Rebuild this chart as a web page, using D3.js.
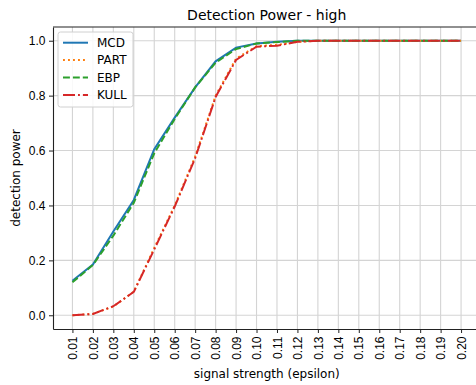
<!DOCTYPE html>
<html>
<head>
<meta charset="utf-8">
<script src="https://cdn.jsdelivr.net/npm/d3@7"></script>
<style>
  html, body { margin: 0; padding: 0; background: #fff; }
  svg { display: block; font-family: "DejaVu Sans", sans-serif; }
</style>
</head>
<body>
<svg id="chart" width="476" height="385"></svg>
<script>
// Signal strengths (epsilon) on the x axis
const epsilon = [0.01, 0.02, 0.03, 0.04, 0.05, 0.06, 0.07, 0.08, 0.09, 0.10,
                 0.11, 0.12, 0.13, 0.14, 0.15, 0.16, 0.17, 0.18, 0.19, 0.20];
const xTickLabels = epsilon.map(d => d.toFixed(2));
const yTicks = [0.0, 0.2, 0.4, 0.6, 0.8, 1.0];

// Detection power per method
const mcd  = [0.126, 0.185, 0.305, 0.42, 0.605, 0.72, 0.83, 0.925, 0.975, 0.99,
              0.996, 1.0, 1.0, 1.0, 1.0, 1.0, 1.0, 1.0, 1.0, 1.0];
const part = [0.0, 0.005, 0.032, 0.086, 0.245, 0.40, 0.578, 0.80, 0.935, 0.98,
              0.985, 0.996, 1.0, 1.0, 1.0, 1.0, 1.0, 1.0, 1.0, 1.0];
const ebp  = [0.12, 0.183, 0.29, 0.41, 0.59, 0.715, 0.83, 0.92, 0.97, 0.99,
              0.995, 1.0, 1.0, 1.0, 1.0, 1.0, 1.0, 1.0, 1.0, 1.0];
const kull = [0.0, 0.005, 0.033, 0.085, 0.24, 0.396, 0.572, 0.795, 0.93, 0.978,
              0.982, 0.996, 1.0, 1.0, 1.0, 1.0, 1.0, 1.0, 1.0, 1.0];

const seriesNames = ["MCD", "PART", "EBP", "KULL"];
const seriesValues = [mcd, part, ebp, kull];
const seriesColors = ["#1f77b4", "#ff7f0e", "#2ca02c", "#d62728"];
const seriesDash = [null, "1.9,3.1", "6.9,3", "12,3,1.9,3"];

const svg = d3.select("#chart");
const plot = { left: 53, top: 27, right: 480.5, bottom: 329 };
const fontSize = 12;

const x = d3.scaleLinear()
  .domain([0.01 - 0.0095, 0.20 + 0.0095])
  .range([plot.left, plot.right]);
const y = d3.scaleLinear()
  .domain([-0.05, 1.05])
  .range([plot.bottom, plot.top]);

// Grid
const grid = svg.append("g").attr("stroke", "#d4d4d4").attr("stroke-width", 1.1);
grid.selectAll("line.vx").data(epsilon).join("line")
  .attr("x1", d => x(d)).attr("x2", d => x(d))
  .attr("y1", plot.top).attr("y2", plot.bottom);
grid.selectAll("line.hy").data(yTicks).join("line")
  .attr("x1", plot.left).attr("x2", plot.right)
  .attr("y1", d => y(d)).attr("y2", d => y(d));

// Axes
const xAxis = d3.axisBottom(x)
  .tickValues(epsilon)
  .tickFormat((d, i) => xTickLabels[i])
  .tickSizeInner(4).tickSizeOuter(0).tickPadding(3.5);
const gx = svg.append("g")
  .attr("transform", `translate(0,${plot.bottom})`)
  .call(xAxis);
gx.selectAll("text")
  .attr("font-size", fontSize)
  .attr("fill", "#000")
  .attr("transform", "rotate(-90)")
  .attr("text-anchor", "end")
  .attr("x", -7.5)
  .attr("y", 0)
  .attr("dy", "0.35em");

const yAxis = d3.axisLeft(y)
  .tickValues(yTicks)
  .tickFormat(d3.format(".1f"))
  .tickSizeInner(4).tickSizeOuter(0).tickPadding(3.5);
const gy = svg.append("g")
  .attr("transform", `translate(${plot.left},0)`)
  .call(yAxis);
gy.selectAll("text").attr("font-size", fontSize).attr("fill", "#000");

[gx, gy].forEach(g => {
  g.select(".domain").attr("stroke", "#222").attr("stroke-width", 1.1);
  g.selectAll(".tick line").attr("stroke", "#222").attr("stroke-width", 1);
});

// Top spine
svg.append("line")
  .attr("x1", plot.left).attr("x2", plot.right)
  .attr("y1", plot.top).attr("y2", plot.top)
  .attr("stroke", "#222").attr("stroke-width", 1.1);

// Series lines
const line = d3.line()
  .x((d, i) => x(epsilon[i]))
  .y(d => y(d));

seriesValues.forEach((vals, k) => {
  svg.append("path")
    .datum(vals)
    .attr("d", line)
    .attr("fill", "none")
    .attr("stroke", seriesColors[k])
    .attr("stroke-width", 2)
    .attr("stroke-dasharray", seriesDash[k]);
});

// Title and axis labels
svg.append("text")
  .attr("x", (plot.left + plot.right) / 2).attr("y", 20)
  .attr("text-anchor", "middle")
  .attr("font-size", 14).attr("fill", "#000")
  .text("Detection Power - high");

svg.append("text")
  .attr("x", (plot.left + plot.right) / 2).attr("y", 378)
  .attr("text-anchor", "middle")
  .attr("font-size", fontSize).attr("fill", "#000")
  .text("signal strength (epsilon)");

svg.append("text")
  .attr("transform", `translate(19.5,${(plot.top + plot.bottom) / 2}) rotate(-90)`)
  .attr("text-anchor", "middle")
  .attr("font-size", fontSize).attr("fill", "#000")
  .text("detection power");

// Legend
const legend = svg.append("g").attr("transform", "translate(58,32)");
legend.append("rect")
  .attr("width", 75).attr("height", 75)
  .attr("rx", 2.5)
  .attr("fill", "#fff").attr("fill-opacity", 0.85)
  .attr("stroke", "#d0d0d0").attr("stroke-width", 1);
seriesNames.forEach((name, k) => {
  const yy = 10.7 + k * 17.4;
  legend.append("line")
    .attr("x1", 5).attr("x2", 30)
    .attr("y1", yy).attr("y2", yy)
    .attr("stroke", seriesColors[k])
    .attr("stroke-width", 2)
    .attr("stroke-dasharray", seriesDash[k]);
  legend.append("text")
    .attr("x", 39).attr("y", yy)
    .attr("dy", "0.36em")
    .attr("font-size", fontSize).attr("fill", "#000")
    .text(name);
});
</script>
</body>
</html>
